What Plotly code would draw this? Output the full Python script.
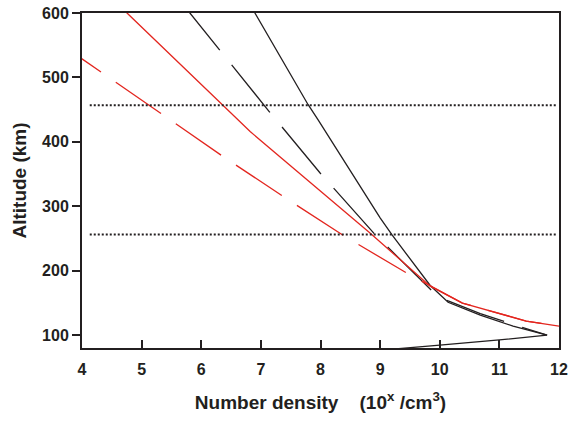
import plotly.graph_objects as go

# Curves: log10 number density (x) vs altitude km (y)
black_solid_x = [6.84, 6.90, 7.79, 7.96, 9.00, 9.20, 9.84, 10.14, 10.68, 11.23, 11.80, 11.00, 10.00, 9.50, 9.00]
black_solid_y = [610, 600, 458, 434, 282, 255.5, 177, 151, 131, 114, 100, 92.5, 84.5, 80, 76.5]

black_dash_x = [5.68, 5.81, 7.14, 7.99, 8.92, 9.89, 10.14, 10.68, 11.23, 11.80]
black_dash_y = [617, 600, 447, 352, 255.5, 167, 153, 133.5, 116.5, 100]

red_solid_x = [4.70, 4.755, 6.35, 6.82, 8.83, 9.84, 10.38, 10.73, 11.45, 12.0]
red_solid_y = [608, 600, 458, 416, 258.6, 176, 149.8, 140.4, 121.8, 114]

red_dash_x = [3.56, 4.0, 5.36, 6.37, 7.41, 8.43, 9.47, 9.87, 10.38, 10.73, 11.45, 12.0]
red_dash_y = [557, 529, 442, 377, 313, 252, 195, 174.6, 149.8, 140.4, 121.8, 114]

dotted_levels = [457, 256]
dotted_x = [4.13, 11.95]

x_ticks = [4, 5, 6, 7, 8, 9, 10, 11, 12]
y_ticks = [100, 200, 300, 400, 500, 600]

BLACK = "#231f20"
RED = "#e3261f"

fig = go.Figure()
fig.add_trace(go.Scatter(x=black_solid_x, y=black_solid_y, mode="lines",
                         line=dict(color=BLACK, width=1.3), hoverinfo="skip"))
fig.add_trace(go.Scatter(x=black_dash_x, y=black_dash_y, mode="lines",
                         line=dict(color=BLACK, width=1.3, dash="61px,19px"), hoverinfo="skip"))
fig.add_trace(go.Scatter(x=red_dash_x, y=red_dash_y, mode="lines",
                         line=dict(color=RED, width=1.3, dash="55px,18px"), hoverinfo="skip"))
fig.add_trace(go.Scatter(x=red_solid_x, y=red_solid_y, mode="lines",
                         line=dict(color=RED, width=1.3), hoverinfo="skip"))
for lv in dotted_levels:
    fig.add_trace(go.Scatter(x=dotted_x, y=[lv, lv], mode="lines",
                             line=dict(color=BLACK, width=2, dash="2px,2px"), hoverinfo="skip"))

font_family = "Liberation Sans, Arial, sans-serif"
fig.update_layout(
    width=570, height=425,
    margin=dict(l=82, r=11, t=13, b=77, autoexpand=False),
    plot_bgcolor="white", paper_bgcolor="white",
    showlegend=False,
    font=dict(family=font_family, color=BLACK),
)
fig.update_xaxes(
    range=[4, 12], tickvals=x_ticks, ticktext=[f"<b>{t}</b>" for t in x_ticks],
    ticks="inside", ticklen=8, tickwidth=2, tickcolor=BLACK,
    showline=True, linewidth=2, linecolor=BLACK, mirror=True,
    showgrid=False, zeroline=False, automargin=False,
    tickfont=dict(size=16, family=font_family, color=BLACK),
    ticklabelstandoff=6, ticklabeloverflow="allow",
    title=dict(text="<b>Number density\u00a0\u00a0\u00a0\u00a0(10<sup>x</sup> /cm<sup>3</sup>)</b>",
               font=dict(size=19, family=font_family, color=BLACK), standoff=18),
)
fig.update_yaxes(
    range=[80, 600], tickvals=y_ticks, ticktext=[f"<b>{t}</b>" for t in y_ticks],
    ticks="outside", ticklen=8, tickwidth=2, tickcolor=BLACK,
    showline=True, linewidth=2, linecolor=BLACK, mirror=True,
    showgrid=False, zeroline=False, automargin=False,
    tickfont=dict(size=16, family=font_family, color=BLACK),
    ticklabeloverflow="allow",
    title=dict(text="<b>Altitude (km)</b>",
               font=dict(size=19, family=font_family, color=BLACK), standoff=10),
)

# remove the default page margin so the 570x425 figure fills the window
fig.write_html("out.html", config={"displayModeBar": False, "staticPlot": True},
               post_script="document.body.style.margin='0';")
